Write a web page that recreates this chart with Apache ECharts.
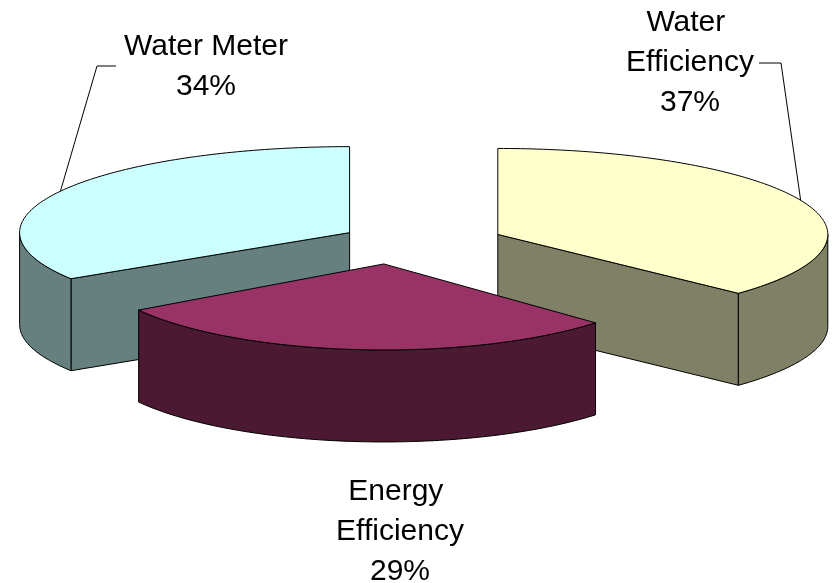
<!DOCTYPE html>
<html>
<head>
<meta charset="utf-8">
<script src="https://cdn.jsdelivr.net/npm/echarts@6/dist/echarts.min.js"></script>
<style>
  html, body { margin: 0; padding: 0; background: #fff; }
  #chart { width: 834px; height: 583px; }
</style>
</head>
<body>
<div id="chart"></div>
<script>
// slices, clockwise from 12 o'clock
const categories = ['Water Efficiency', 'Energy Efficiency', 'Water Meter'];
const shares = [37, 29, 34];

// colours: top face / side walls
const topColors = ['#FFFFCC', '#993366', '#CCFFFF'];
const sideColors = ['#808066', '#4C1933', '#668080'];

// fake 3d pie layout
const PIE = { cx: 422, cy: 243, rx: 330, ry: 86, depth: 92 };
// per slice: explode distance, extra turn of the explode direction (deg), x radius scale
// (the front slice in the original is drawn a bit narrower, excel perspective)
const explodeDist = [82.6, 89, 82.6];
const explodeTurn = [0, 20, 0];
const rxScale = [1, 0.88, 1];

const labelCenter = [[690, 63], [400, 532], [206, 67]];
const labelWidth = [150, 160, 220];
// leader line start + elbow (end is on the slice rim at mid angle)
const leaders = [[[759, 63], [781, 63]], null, [[116, 66], [97, 66]]];

const rad = d => d * Math.PI / 180;
const FONT = '30px "Liberation Sans", Arial, sans-serif';

function renderItem(params, api) {
  let i = params.dataIndex;
  let total = shares.reduce((a, b) => a + b, 0);
  let before = 0;
  for (let j = 0; j < i; j++) before += shares[j];
  let a0 = before / total * 360;
  let a1 = (before + api.value(0)) / total * 360;
  let mid = (a0 + a1) / 2;

  let ed = mid + explodeTurn[i];
  let ax = PIE.cx + explodeDist[i] * Math.sin(rad(ed));
  let ay = PIE.cy - explodeDist[i] * (PIE.ry / PIE.rx) * Math.cos(rad(ed));
  let rx = PIE.rx * rxScale[i];
  let pt = (deg, dz) => [ax + rx * Math.sin(rad(deg)), ay - PIE.ry * Math.cos(rad(deg)) + dz];
  let arc = (s, e, dz) => {
    let n = Math.max(2, Math.ceil(e - s));
    let out = [];
    for (let k = 0; k <= n; k++) out.push(pt(s + (e - s) * k / n, dz));
    return out;
  };

  let D = PIE.depth;
  let zb = Math.round(ay) * 10;
  let edge = { stroke: '#000', lineWidth: 1 };
  let children = [];

  // radial walls facing the viewer
  if (Math.cos(rad(a0 - 90)) < -0.01) {
    let c = pt(a0, 0);
    children.push({
      type: 'polygon', z2: zb,
      shape: { points: [[ax, ay], c, [c[0], c[1] + D], [ax, ay + D]] },
      style: Object.assign({ fill: sideColors[i] }, edge)
    });
  }
  if (Math.cos(rad(a1 + 90)) < -0.01) {
    let c = pt(a1, 0);
    children.push({
      type: 'polygon', z2: zb,
      shape: { points: [[ax, ay], c, [c[0], c[1] + D], [ax, ay + D]] },
      style: Object.assign({ fill: sideColors[i] }, edge)
    });
  }
  // outer rim wall (front half only)
  let s = Math.max(a0, 90), e = Math.min(a1, 270);
  if (e > s) {
    let pts = arc(s, e, 0).concat(arc(s, e, D).reverse());
    children.push({
      type: 'polygon', z2: zb + 1,
      shape: { points: pts },
      style: Object.assign({ fill: sideColors[i] }, edge)
    });
  }
  // top face
  children.push({
    type: 'polygon', z2: zb + 2,
    shape: { points: [[ax, ay]].concat(arc(a0, a1, 0)) },
    style: Object.assign({ fill: topColors[i] }, edge)
  });

  // label
  let pct = Math.round(api.value(0) / total * 100);
  children.push({
    type: 'text', z2: zb + 3,
    style: {
      text: categories[i] + '\n' + pct + '%',
      x: labelCenter[i][0], y: labelCenter[i][1],
      align: 'center', verticalAlign: 'middle',
      font: FONT, lineHeight: 40, fill: '#000',
      width: labelWidth[i], overflow: 'break'
    }
  });
  if (leaders[i]) {
    children.push({
      type: 'polyline', z2: zb + 3,
      shape: { points: [leaders[i][0], leaders[i][1], pt(mid, 0)] },
      style: { stroke: '#000', lineWidth: 1, fill: null }
    });
  }

  return { type: 'group', children: children };
}

let chartDom = document.getElementById('chart');
let myChart = echarts.init(chartDom);
let option = {
  backgroundColor: '#fff',
  animation: false,
  series: [{
    type: 'custom',
    coordinateSystem: 'none',
    silent: true,
    renderItem: renderItem,
    data: shares.map((v, i) => ({ name: categories[i], value: v }))
  }]
};
option && myChart.setOption(option);
</script>
</body>
</html>
